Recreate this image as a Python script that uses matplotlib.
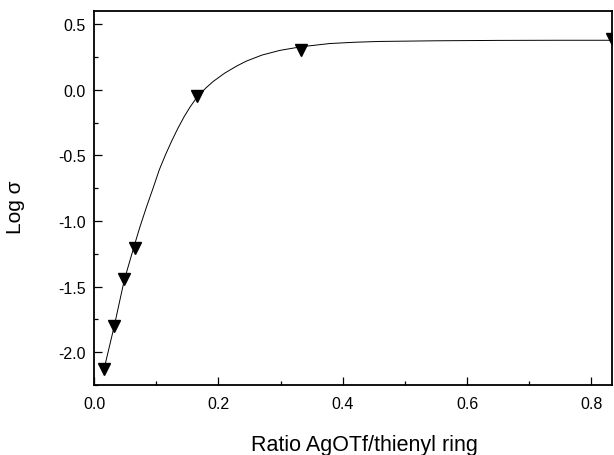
import matplotlib
matplotlib.use("Agg")
import matplotlib.pyplot as plt
from matplotlib.ticker import MultipleLocator

plt.rcParams['font.family'] = ['Liberation Sans', 'DejaVu Sans']

# measured points (ratio AgOTf / thienyl ring, log sigma)
ratio = [0.0166, 0.0326, 0.0487, 0.0659, 0.165, 0.3325, 0.833]
log_sigma = [-2.13, -1.80, -1.445, -1.205, -0.05, 0.30, 0.39]

# fitted curve
fit_x = [0.0166, 0.0326, 0.0487, 0.0659, 0.0739, 0.085, 0.095, 0.105, 0.115,
         0.125, 0.135, 0.145, 0.155, 0.165, 0.18, 0.1917, 0.21, 0.23, 0.245,
         0.27, 0.299, 0.3325, 0.379, 0.42, 0.459, 0.55, 0.65, 0.75, 0.833]
fit_y = [-2.12, -1.80, -1.45, -1.17, -1.045, -0.885, -0.75, -0.61, -0.495,
         -0.39, -0.293, -0.205, -0.128, -0.061, 0.014, 0.063, 0.126, 0.182,
         0.218, 0.264, 0.30, 0.327, 0.352, 0.362, 0.368, 0.373, 0.376, 0.377,
         0.377]

fig = plt.figure(figsize=(6.14, 4.56), dpi=100)
ax = fig.add_axes([94 / 614, 1 - 386 / 456, 518 / 614, 374 / 456])

ax.plot(fit_x, fit_y, color='black', lw=0.7)
ax.plot(ratio, log_sigma, linestyle='none', marker='v', markersize=8.5,
        color='black')

ax.set_xlim(0, 0.833)
ax.set_ylim(-2.25, 0.6)

ax.xaxis.set_major_locator(MultipleLocator(0.2))
ax.xaxis.set_minor_locator(MultipleLocator(0.1))
ax.yaxis.set_major_locator(MultipleLocator(0.5))
ax.yaxis.set_minor_locator(MultipleLocator(0.25))
ax.xaxis.set_major_formatter(plt.FormatStrFormatter('%.1f'))
ax.yaxis.set_major_formatter(plt.FormatStrFormatter('%.1f'))

ax.tick_params(which='both', direction='in', top=False, right=False,
               labelsize=11.5, width=0.9)
ax.tick_params(which='major', length=5.5, pad=6)
ax.tick_params(axis='x', which='major', pad=8)
ax.tick_params(which='minor', length=3)
for s in ax.spines.values():
    s.set_linewidth(1.3)

ax.set_xlabel('Ratio AgOTf/thienyl ring', fontsize=15.5)
ax.set_ylabel('Log σ', fontsize=15)
ax.xaxis.set_label_coords(0.523, -0.13)
ax.yaxis.set_label_coords(-0.133, 0.479)

fig.savefig('out.png', dpi=100)
